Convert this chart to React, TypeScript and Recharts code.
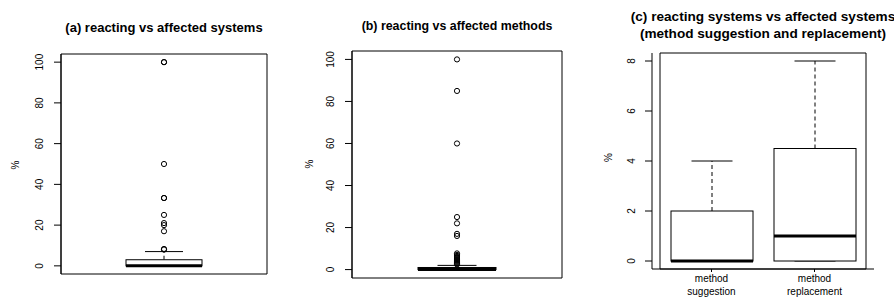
import { ComposedChart, Bar, Scatter, XAxis, YAxis, ReferenceArea } from 'recharts';

const FONT = '"Liberation Sans", Arial, Helvetica, sans-serif';

// y ticks
const pctTicks = [0, 20, 40, 60, 80, 100];
const smallTicks = [0, 2, 4, 6, 8];

// (a) reacting vs affected systems
const systemsBox = [{ name: 'systems', lo: 0, q1: 0, median: 0, q3: 3, hi: 7 }];
const systemsOutliers = [100, 100, 50, 33.3, 33.3, 25, 21, 20, 17, 8.3, 8];

// (b) reacting vs affected methods
const methodsBox = [{ name: 'methods', lo: 0, q1: 0, median: 0, q3: 1, hi: 2 }];
const methodsOutliers = [100, 85, 60, 25, 22, 17, 16, 7.7, 7, 6.5, 6, 5.5, 5, 4.5, 4, 3.5, 3, 2.5];

// (c) method suggestion vs replacement
const kindCategories = ['method\nsuggestion', 'method\nreplacement'];
const kindLo = [0, 0];
const kindQ1 = [0, 0];
const kindMedian = [0, 1];
const kindQ3 = [2, 4.5];
const kindHi = [4, 8];

const kindBox = kindCategories.map((name, i) => ({
  name,
  lo: kindLo[i],
  q1: kindQ1[i],
  median: kindMedian[i],
  q3: kindQ3[i],
  hi: kindHi[i],
}));

const BoxShape = (props: any) => {
  const { x, y, width, height, payload } = props;
  const { lo, q1, median, q3, hi } = payload;
  // bar spans lo..hi, the scale is linear so we place the rest inside it
  const py = (v: number) => y + height - ((v - lo) / (hi - lo)) * height;
  const cx = x + width / 2;
  const cap = width / 4;
  return (
    <g stroke="#000" fill="none">
      <line x1={cx} x2={cx} y1={py(q3)} y2={py(hi)} strokeDasharray="4 3" />
      <line x1={cx} x2={cx} y1={py(q1)} y2={py(lo)} strokeDasharray="4 3" />
      <line x1={cx - cap} x2={cx + cap} y1={py(hi)} y2={py(hi)} />
      <line x1={cx - cap} x2={cx + cap} y1={py(lo)} y2={py(lo)} />
      <rect x={x} y={py(q3)} width={width} height={py(q1) - py(q3)} fill="#fff" />
      <line x1={x} x2={x + width} y1={py(median)} y2={py(median)} strokeWidth={3} />
    </g>
  );
};

const Outlier = (props: any) => (
  <circle cx={props.cx} cy={props.cy} r={2.6} fill="none" stroke="#000" strokeWidth={1} />
);

const RotTick = ({ x, y, payload }: any) => (
  <text
    x={x}
    y={y}
    transform={`rotate(-90, ${x}, ${y})`}
    textAnchor="middle"
    fontSize={10}
    fontFamily={FONT}
    fill="#000"
  >
    {payload.value}
  </text>
);

const TwoLineTick = ({ x, y, payload }: any) => {
  const [l1, l2] = String(payload.value).split('\n');
  return (
    <text textAnchor="middle" fontSize={10} fontFamily={FONT} fill="#000">
      <tspan x={x} y={y + 7.5}>{l1}</tspan>
      <tspan x={x} y={y + 21}>{l2}</tspan>
    </text>
  );
};

const yAxisProps = {
  type: 'number' as const,
  allowDataOverflow: true,
  tickSize: 7,
  tickMargin: 10.5,
  tick: RotTick,
  axisLine: { stroke: '#000' },
  tickLine: { stroke: '#000' },
  interval: 0 as const,
};

const App = () => {
  return (
    <div style={{ position: 'absolute', left: 0, top: 0, width: 894, height: 298, background: '#fff', overflow: 'hidden' }}>
      {/* (a) */}
      <div style={{ position: 'absolute', left: 0, top: 0 }}>
        <ComposedChart width={300} height={298} data={systemsBox} margin={{ top: 54, right: 33, bottom: 24, left: 0 }}>
          <XAxis dataKey="name" type="category" hide allowDuplicatedCategory={false} />
          <YAxis {...yAxisProps} width={61} domain={[-4, 104]} ticks={pctTicks} />
          <ReferenceArea y1={-4} y2={104} fill="none" stroke="#000" strokeOpacity={1} />
          <Bar dataKey={(d: any) => [d.lo, d.hi]} barSize={76} shape={BoxShape} isAnimationActive={false} />
          <Scatter
            data={systemsOutliers.map((v) => ({ name: 'systems', v }))}
            dataKey="v"
            shape={Outlier}
            isAnimationActive={false}
          />
        </ComposedChart>
      </div>

      {/* (b) */}
      <div style={{ position: 'absolute', left: 295, top: 0 }}>
        <ComposedChart width={300} height={298} data={methodsBox} margin={{ top: 51, right: 33, bottom: 20, left: 0 }}>
          <XAxis dataKey="name" type="category" hide allowDuplicatedCategory={false} />
          <YAxis {...yAxisProps} width={57} domain={[-4, 104]} ticks={pctTicks} />
          <ReferenceArea y1={-4} y2={104} fill="none" stroke="#000" strokeOpacity={1} />
          <Bar dataKey={(d: any) => [d.lo, d.hi]} barSize={78} shape={BoxShape} isAnimationActive={false} />
          <Scatter
            data={methodsOutliers.map((v) => ({ name: 'methods', v }))}
            dataKey="v"
            shape={Outlier}
            isAnimationActive={false}
          />
        </ComposedChart>
      </div>

      {/* (c) */}
      <div style={{ position: 'absolute', left: 590, top: 0 }}>
        <ComposedChart width={304} height={298} data={kindBox} margin={{ top: 53, right: 20, bottom: 0, left: 0 }}>
          <XAxis
            dataKey="name"
            type="category"
            height={29}
            padding={{ left: 8, right: 8 }}
            tickSize={3}
            tickMargin={2}
            tick={TwoLineTick}
            axisLine={{ stroke: '#000' }}
            tickLine={{ stroke: '#000' }}
            interval={0}
          />
          <YAxis {...yAxisProps} width={62} domain={[-0.32, 8.32]} ticks={smallTicks} />
          <ReferenceArea y1={-0.32} y2={8.32} fill="none" stroke="#000" strokeOpacity={1} />
          <Bar dataKey={(d: any) => [d.lo, d.hi]} barSize={82} shape={BoxShape} isAnimationActive={false} />
        </ComposedChart>
      </div>

      {/* titles and axis titles */}
      <svg
        width={894}
        height={298}
        style={{ position: 'absolute', left: 0, top: 0, pointerEvents: 'none' }}
        fontFamily={FONT}
      >
        <text x={164} y={32} textAnchor="middle" fontSize={13} fontWeight="bold">
          (a) reacting vs affected systems
        </text>
        <text x={457} y={30} textAnchor="middle" fontSize={12.4} fontWeight="bold">
          (b) reacting vs affected methods
        </text>
        <text x={763} y={20.5} textAnchor="middle" fontSize={13.6} fontWeight="bold">
          (c) reacting systems vs affected systems
        </text>
        <text x={763} y={38} textAnchor="middle" fontSize={13.6} fontWeight="bold">
          (method suggestion and replacement)
        </text>
        <text x={18.6} y={165} transform="rotate(-90, 18.6, 165)" textAnchor="middle" fontSize={10}>
          %
        </text>
        <text x={312.6} y={164} transform="rotate(-90, 312.6, 164)" textAnchor="middle" fontSize={10}>
          %
        </text>
        <text x={611.6} y={157.5} transform="rotate(-90, 611.6, 157.5)" textAnchor="middle" fontSize={10}>
          %
        </text>
      </svg>
    </div>
  );
};

export default App;
